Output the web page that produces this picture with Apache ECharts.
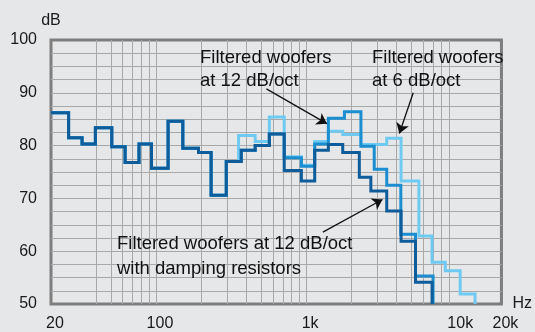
<!DOCTYPE html>
<html>
<head>
<meta charset="utf-8">
<script src="https://cdn.jsdelivr.net/npm/echarts@6/dist/echarts.min.js"></script>
<style>
  html, body { margin: 0; padding: 0; background: #e6e7e9; }
  #chart { width: 535px; height: 332px; }
</style>
</head>
<body>
<div id="chart"></div>
<script>
// Third-octave band response: band start frequency (Hz) and level (dB).
// The last entry of each list is where the curve drops to the floor.
const dampedFreq  = [20, 26.2, 32.2, 39.5, 50.8, 62.3, 77.1, 93.4, 120.5, 151, 192, 233, 294, 370, 458, 569, 715, 930, 1141, 1407, 1754, 2262, 2699, 3444, 4290, 5355, 6902];
const dampedLevel = [86.2, 81.5, 80.3, 83.4, 79.8, 76.8, 80.3, 75.7, 84.6, 79.5, 78.7, 70.6, 77.0, 79.1, 80.0, 82.2, 75.3, 73.3, 79.1, 80.2, 78.7, 74.0, 71.4, 67.6, 61.9, 54.1, 50];

const oct12Freq   = [20, 26.2, 32.2, 39.5, 50.8, 62.3, 77.1, 93.4, 120.5, 151, 192, 233, 294, 370, 458, 569, 715, 930, 1141, 1407, 1800, 2318, 2843, 3444, 4275, 5355, 7008];
const oct12Level  = [86.2, 81.5, 80.3, 83.4, 79.8, 76.8, 80.3, 75.7, 84.6, 79.5, 78.7, 70.6, 77.0, 79.1, 80.0, 82.2, 77.7, 76.1, 80.3, 85.2, 86.4, 79.9, 75.5, 72.5, 63.2, 55.3, 50];

const oct6Freq    = [20, 26.2, 32.2, 39.5, 50.8, 62.3, 77.1, 93.4, 120.5, 151, 192, 233, 294, 355, 458, 569, 715, 930, 1141, 1407, 1754, 2318, 3444, 4290, 5638, 6902, 8452, 10620, 13346];
const oct6Level   = [86.2, 81.5, 80.3, 83.4, 79.8, 76.8, 80.3, 75.7, 84.6, 79.5, 78.7, 70.6, 77.0, 81.9, 80.8, 85.4, 77.9, 76.3, 80.8, 82.7, 82.1, 80.2, 81.4, 73.3, 62.9, 57.9, 56.3, 51.9, 50];

// Axis ticks
const freqLabels = [20, 100, 1000, 10000, 20000];
const freqGrid   = [30, 40, 50, 60, 70, 80, 90, 100, 200, 300, 400, 500, 600, 700, 800, 900,
                    1000, 2000, 3000, 4000, 5000, 6000, 7000, 8000, 9000, 10000];

// Callout arrows: [from (Hz, dB), to (Hz, dB)]
const arrow12   = [[544, 90.75], [1376, 84.15]];
const arrow6    = [[5170, 90.0], [4178, 82.3]];
const arrowDamp = [[1294, 63.6], [3226, 69.8]];

const FONT = '"Liberation Sans", Arial, Helvetica, sans-serif';
const NOTE_FONT = '18.5px ' + FONT;

function pairs(f, l) { return f.map((v, i) => [v, l[i]]); }
function fmtHz(v) { return v >= 1000 ? (v / 1000) + 'k' : String(v); }

function stepSeries(name, f, l, color, z) {
  return {
    name, type: 'line', step: 'end', data: pairs(f, l),
    symbol: 'none', z, animation: false,
    lineStyle: { color, width: 3, join: 'miter', cap: 'butt' }
  };
}

function arrowLine(a) {
  return [{ coord: a[0] }, { coord: a[1] }];
}

function note(text, left, top) {
  return { type: 'text', left, top, z: 10, style: { text, font: NOTE_FONT, fill: '#111' } };
}

const chart = echarts.init(document.getElementById('chart'), null, { renderer: 'canvas' });

chart.setOption({
  backgroundColor: '#e6e7e9',
  animation: false,
  grid: {
    left: 51, right: 30, top: 40, bottom: 27,
    show: true, borderColor: '#7e7e7e', borderWidth: 3, backgroundColor: 'transparent'
  },
  xAxis: {
    type: 'log', logBase: 10, min: 20, max: 20000,
    name: 'Hz', nameLocation: 'end', nameGap: 11,
    nameTextStyle: { fontFamily: FONT, fontSize: 16, color: '#1a1a1a', verticalAlign: 'middle' },
    axisLine: { show: false },
    axisTick: { show: false, customValues: freqGrid },
    axisLabel: {
      customValues: freqLabels, formatter: fmtHz,
      fontFamily: FONT, fontSize: 16, color: '#1a1a1a', margin: 12,
      padding: [0, 0, 0, 8]
    },
    splitLine: { show: true, showMinLine: false, showMaxLine: false,
                 lineStyle: { color: '#a8a8a8', width: 1 } }
  },
  yAxis: {
    type: 'value', min: 50, max: 100, interval: 2.5,
    name: 'dB', nameLocation: 'end', nameGap: 11,
    nameTextStyle: { fontFamily: FONT, fontSize: 16, color: '#1a1a1a', align: 'center' },
    axisLine: { show: false },
    axisTick: { show: false },
    axisLabel: {
      formatter: v => (v % 10 === 0 ? String(v) : ''),
      fontFamily: FONT, fontSize: 16, color: '#1a1a1a', margin: 14
    },
    splitLine: { show: true, showMinLine: false, showMaxLine: false,
                 lineStyle: { color: '#a8a8a8', width: 1 } }
  },
  series: [
    stepSeries('6 dB/oct', oct6Freq, oct6Level, '#6fcaf2', 3),
    stepSeries('12 dB/oct', oct12Freq, oct12Level, '#1a8ed0', 4),
    stepSeries('12 dB/oct damped', dampedFreq, dampedLevel, '#0e5c9a', 5),
    {
      type: 'line', data: [], z: 6, silent: true,
      markLine: {
        silent: true, animation: false,
        symbol: ['none', 'arrow'], symbolSize: 10,
        label: { show: false },
        lineStyle: { color: '#111', width: 1.3, type: 'solid' },
        data: [arrowLine(arrow12), arrowLine(arrow6), arrowLine(arrowDamp)]
      }
    }
  ],
  graphic: [
    note('Filtered woofers', 200, 48),
    note('at 12 dB/oct', 200, 71),
    note('Filtered woofers', 372, 48),
    note('at 6 dB/oct', 372, 71),
    note('Filtered woofers at 12 dB/oct', 117, 234),
    note('with damping resistors', 117, 259)
  ]
});
</script>
</body>
</html>
